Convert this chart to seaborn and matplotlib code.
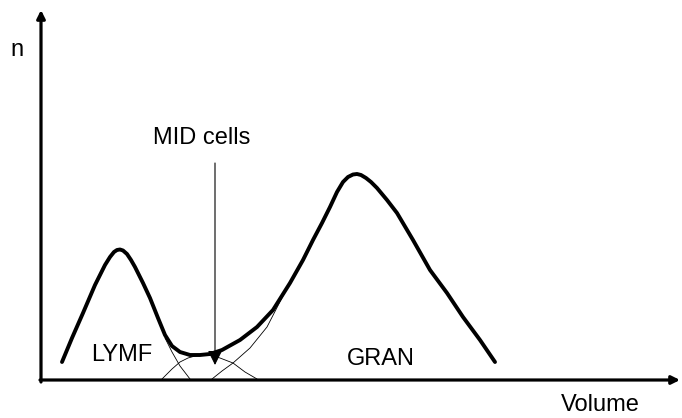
# WBC volume histogram sketch: LYMF / MID / GRAN populations

import numpy as np
import pandas as pd
import matplotlib.pyplot as plt
import seaborn as sns

# total histogram (thick line), volume vs count
volume = [62, 72, 83, 95, 105, 110, 114, 117, 120, 123, 127, 131, 135, 143, 150, 158, 165, 172, 180, 190,
          200, 210, 222, 240, 257, 273, 290, 303, 313, 322, 330, 337, 343, 348, 353, 357, 361, 366, 371,
          377, 387, 397, 413, 430, 447, 463, 480, 495]
count = [18, 42, 67, 95, 115, 123, 128, 130, 130.5, 129.5, 126, 120, 113, 97, 82, 62, 45, 34, 28, 25,
         25, 26, 30, 40, 53, 70, 97, 120, 140, 157, 173, 188, 198, 203, 205.5, 206, 205, 202, 198,
         192, 180, 167, 140, 110, 87, 63, 40, 18]

# separate populations (thin lines)
lymf_vol = [165, 172, 180, 190]
lymf_n = [42, 28, 14, 1]
mid_vol = [162, 172, 180, 188, 195, 207, 220, 233, 245, 257]
mid_n = [1, 11, 18, 22, 24, 26, 22, 17, 8, 1]
gran_vol = [212, 222, 233, 250, 267, 285]
gran_n = [1, 9, 17, 32, 53, 88]

sns.set_style("white")
plt.rcParams['font.family'] = ['Liberation Sans', 'DejaVu Sans']

fig = plt.figure(figsize=(6.82, 4.18), dpi=100)
ax = fig.add_axes([0, 0, 1, 1])

total = pd.DataFrame({'volume': volume, 'n': count})
sns.lineplot(data=total, x='volume', y='n', color='black', linewidth=2.8, ax=ax)
sns.lineplot(x=lymf_vol, y=lymf_n, color='black', linewidth=0.6, ax=ax)
sns.lineplot(x=mid_vol, y=mid_n, color='black', linewidth=0.6, ax=ax)
sns.lineplot(x=gran_vol, y=gran_n, color='black', linewidth=0.6, ax=ax)

# axes with arrow heads
ax.annotate('', xy=(41, 370), xytext=(41, -2),
            arrowprops=dict(arrowstyle='-|>', color='black', lw=2.3, mutation_scale=12,
                            shrinkA=0, shrinkB=0))
ax.annotate('', xy=(680, 0), xytext=(40, 0),
            arrowprops=dict(arrowstyle='-|>', color='black', lw=2.3, mutation_scale=12,
                            shrinkA=0, shrinkB=0))

# MID pointer
ax.annotate('', xy=(215, 15), xytext=(215, 217),
            arrowprops=dict(arrowstyle='-|>', color='black', lw=0.8, mutation_scale=22,
                            shrinkA=0, shrinkB=0))

ax.text(17, 330, 'n', fontsize=17, ha='center', va='center', color='black')
ax.text(202, 242, 'MID cells', fontsize=17, ha='center', va='center', color='black')
ax.text(122, 25, 'LYMF', fontsize=17, ha='center', va='center', color='black')
ax.text(381, 21, 'GRAN', fontsize=17, ha='center', va='center', color='black')
ax.text(600, -25, 'Volume', fontsize=17, ha='center', va='center', color='black')

ax.set_xlim(0, 682)
ax.set_ylim(-38, 380)
ax.axis('off')

plt.savefig('out.png', dpi=100)
